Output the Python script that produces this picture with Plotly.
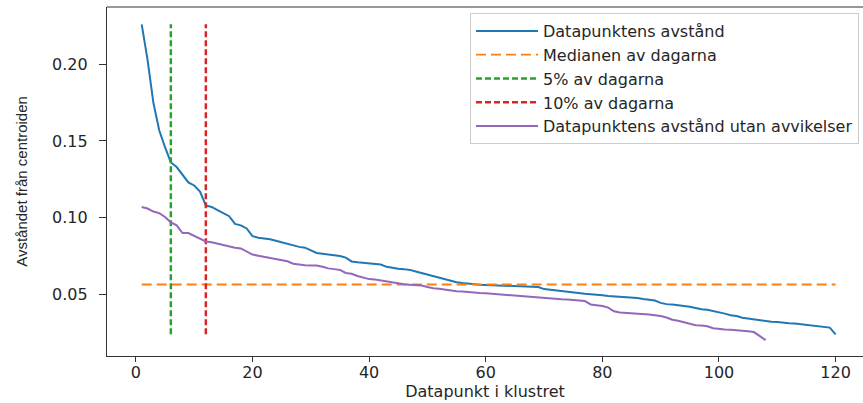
import plotly.graph_objects as go

# ---- data ----
blue_vals = [
    0.226, 0.203, 0.175, 0.157, 0.146, 0.136, 0.133, 0.128, 0.123, 0.121,
    0.117, 0.108, 0.107, 0.105, 0.103, 0.101, 0.096, 0.095, 0.093, 0.088,
    0.087, 0.0865, 0.086, 0.085, 0.084, 0.083, 0.082, 0.081, 0.0805, 0.079,
    0.077, 0.0765, 0.076, 0.0758, 0.075, 0.074, 0.0715, 0.071, 0.0705, 0.0703,
    0.070, 0.0695, 0.068, 0.0672, 0.0668, 0.0665, 0.066, 0.065, 0.064, 0.0625,
    0.062, 0.061, 0.060, 0.059, 0.058, 0.0575, 0.057, 0.0567, 0.0564, 0.0562,
    0.056, 0.0559, 0.0558, 0.0557, 0.0556, 0.0554, 0.0552, 0.055, 0.0548, 0.0535,
    0.053, 0.0525, 0.052, 0.0515, 0.051, 0.0507, 0.0505, 0.0502, 0.050, 0.0495,
    0.049, 0.0488, 0.0486, 0.0484, 0.048, 0.0477, 0.047, 0.0465, 0.046, 0.0445,
    0.0437, 0.0435, 0.0432, 0.0425, 0.042, 0.041, 0.0403, 0.040, 0.0393, 0.0385,
    0.0375, 0.0365, 0.036, 0.0348, 0.0342, 0.0338, 0.0332, 0.0328, 0.0322, 0.032,
    0.0315, 0.0312, 0.031, 0.0305, 0.0302, 0.030, 0.0295, 0.029, 0.0284, 0.0240,
]
purple_vals = [
    0.107, 0.106, 0.104, 0.103, 0.1005, 0.097, 0.095, 0.090, 0.090, 0.088,
    0.086, 0.0845, 0.084, 0.083, 0.082, 0.081, 0.0805, 0.080, 0.078, 0.076,
    0.0752, 0.0745, 0.074, 0.073, 0.0722, 0.0716, 0.070, 0.0694, 0.069, 0.0689,
    0.0688, 0.068, 0.067, 0.0665, 0.066, 0.064, 0.0635, 0.062, 0.0608, 0.060,
    0.0597, 0.059, 0.0585, 0.058, 0.0572, 0.0567, 0.0563, 0.056, 0.0558, 0.0548,
    0.054, 0.0537, 0.053, 0.0525, 0.0521, 0.052, 0.0515, 0.0512, 0.051, 0.0508,
    0.0505, 0.050, 0.0497, 0.0494, 0.049, 0.0487, 0.0484, 0.048, 0.0478, 0.0475,
    0.0472, 0.047, 0.0469, 0.0467, 0.0464, 0.046, 0.0457, 0.0435, 0.043, 0.0425,
    0.0414, 0.039, 0.0382, 0.038, 0.038, 0.0378, 0.0372, 0.037, 0.0365, 0.036,
    0.035, 0.0335, 0.0328, 0.0318, 0.0305, 0.030, 0.0298, 0.0293, 0.028, 0.0275,
    0.0272, 0.027, 0.0268, 0.0266, 0.026, 0.0255, 0.023, 0.0202,
]
median_value = 0.0565
pct5_x = 6
pct10_x = 12

x_ticks = [0, 20, 40, 60, 80, 100, 120]
y_ticks = [0.05, 0.10, 0.15, 0.20]

blue_x = list(range(1, len(blue_vals) + 1))
purple_x = list(range(1, len(purple_vals) + 1))

names = [
    "Datapunktens avstånd",
    "Medianen av dagarna",
    "5% av dagarna",
    "10% av dagarna",
    "Datapunktens avstånd utan avvikelser",
]
colors = ["#1f77b4", "#ff7f0e", "#2ca02c", "#d62728", "#9467bd"]

vmin, vmax = min(blue_vals), max(blue_vals)

fig = go.Figure()
fig.add_trace(go.Scatter(x=blue_x, y=blue_vals, mode="lines", name=names[0],
                         line=dict(color=colors[0], width=2)))
fig.add_trace(go.Scatter(x=[blue_x[0], blue_x[-1]], y=[median_value, median_value],
                         mode="lines", name=names[1],
                         line=dict(color=colors[1], width=1.8, dash="10px,5px")))
fig.add_trace(go.Scatter(x=[pct5_x, pct5_x], y=[vmin, vmax], mode="lines", name=names[2],
                         line=dict(color=colors[2], width=2.5, dash="6px,3px")))
fig.add_trace(go.Scatter(x=[pct10_x, pct10_x], y=[vmin, vmax], mode="lines", name=names[3],
                         line=dict(color=colors[3], width=2.5, dash="6px,3px")))
fig.add_trace(go.Scatter(x=purple_x, y=purple_vals, mode="lines", name=names[4],
                         line=dict(color=colors[4], width=2)))

font_main = "DejaVu Sans"
axis_color = "#333333"
text_color = "#262626"

fig.update_layout(
    width=863, height=403,
    margin=dict(l=107, r=0, t=7, b=47),
    paper_bgcolor="white", plot_bgcolor="white",
    font=dict(family=font_main, size=15, color=text_color),
    showlegend=True,
    legend=dict(
        x=0.9947, y=0.9828, xanchor="right", yanchor="top",
        bgcolor="rgba(255,255,255,0.8)", bordercolor="#cccccc", borderwidth=1,
        font=dict(family=font_main, size=16, color=text_color),
        itemwidth=62,
    ),
    xaxis=dict(
        range=[-4.95, 124.7], showgrid=False, zeroline=False,
        showline=True, linecolor=axis_color, linewidth=1.2,
        ticks="outside", ticklen=5, tickcolor=axis_color,
        tickvals=x_ticks, ticklabelstandoff=-3,
        tickfont=dict(size=16),
        title=dict(text="Datapunkt i klustret", font=dict(size=16), standoff=4),
    ),
    yaxis=dict(
        range=[0.0099, 0.2373], showgrid=False, zeroline=False,
        showline=True, linecolor=axis_color, linewidth=1.2,
        ticks="outside", ticklen=7, tickcolor=axis_color,
        tickvals=y_ticks, tickformat=".2f", ticklabelstandoff=8,
        tickfont=dict(size=16),
        title=dict(text="Avståndet från centroiden",
                   font=dict(family="Liberation Sans", size=15),
                   standoff=20),
    ),
    shapes=[dict(type="line", xref="paper", yref="paper", x0=0, x1=1, y0=1, y1=1,
                 line=dict(color=axis_color, width=1.2))],
)

fig.write_html("out.html", config={"displayModeBar": False})
